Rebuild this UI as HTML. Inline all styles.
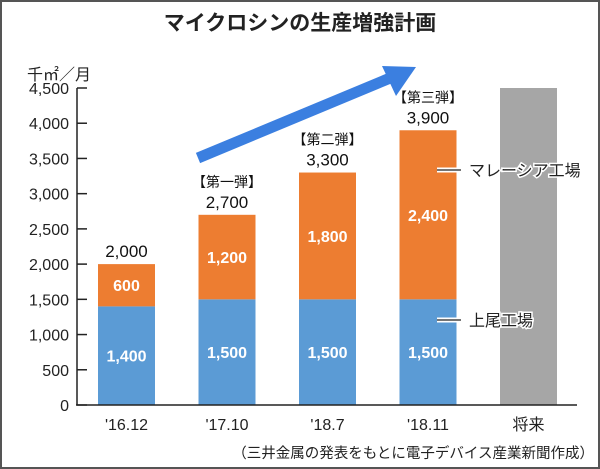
<!DOCTYPE html>
<html><head><meta charset="utf-8"><style>
body{margin:0;background:#fff}
svg{display:block;font-family:"Liberation Sans","Noto Sans CJK JP",sans-serif}
</style></head><body>
<svg id="c" width="600" height="469">
<rect x="1" y="1" width="598" height="467" fill="#fff" stroke="#555" stroke-width="2"/>
<text x="300" y="30" text-anchor="middle" font-size="21" font-weight="bold" fill="#222">マイクロシンの生産増強計画</text>
<text x="27" y="80" font-size="16" fill="#222">千㎡／月</text>
<g id="arrow">
<line x1="198" y1="158" x2="395" y2="76" stroke="#3b7fe0" stroke-width="11"/>
<polygon points="416,67 382,66 396,96" fill="#3b7fe0"/>
</g>
<g id="plot"></g>
<text x="594" y="458" text-anchor="end" font-size="14.5" fill="#222">（三井金属の発表をもとに電子デバイス産業新聞作成）</text>
</svg>
<script>
const categories=["'16.12","'17.10","'18.7","'18.11","将来"];
const ageoValues=[1400,1500,1500,1500,null];
const malaysiaValues=[600,1200,1800,2400,null];
const totalLabels=["2,000","2,700","3,300","3,900",""];
const phaseLabels=["","【第一弾】","【第二弾】","【第三弾】",""];
const futureValue=4500;
const yTicks=[0,500,1000,1500,2000,2500,3000,3500,4000,4500];
const yTickLabels=["0","500","1,000","1,500","2,000","2,500","3,000","3,500","4,000","4,500"];

const ns="http://www.w3.org/2000/svg";
const g=document.getElementById('plot');
const y0=405,pxPer=317/4500;
const y=v=>y0-v*pxPer;
const xc=i=>126.5+i*100.5;
const bw=57;
function el(t,a,txt){const e=document.createElementNS(ns,t);for(const k in a)e.setAttribute(k,a[k]);if(txt!=null)e.textContent=txt;g.appendChild(e);return e;}

categories.forEach((c,i)=>{
  const x=xc(i)-bw/2;
  if(ageoValues[i]==null){
    const r=el('rect',{x:x,y:y(futureValue),width:bw,height:y0-y(futureValue),fill:'#a6a6a6'});
    
    
  }else{
    const a=ageoValues[i],m=malaysiaValues[i];
    const r1=el('rect',{x:x,y:y(a),width:bw,height:y0-y(a),fill:'#5b9bd5'});
    
    
    const r2=el('rect',{x:x,y:y(a+m),width:bw,height:y(a)-y(a+m),fill:'#ed7d31'});
    
    
    const t1=el('text',{x:xc(i),y:(y(a)+y0)/2+6,'text-anchor':'middle','font-size':16,'font-weight':'bold',fill:'#fff'},a.toLocaleString('en-US'));
    
    
    const t2=el('text',{x:xc(i),y:(y(a)+y(a+m))/2+6,'text-anchor':'middle','font-size':16,'font-weight':'bold',fill:'#fff'},m.toLocaleString('en-US'));
    
    
    const t3=el('text',{x:xc(i),y:y(a+m)-7,'text-anchor':'middle','font-size':17,fill:'#111'},totalLabels[i]);
    
    
    if(phaseLabels[i]){
      const t4=el('text',{x:xc(i),y:y(a+m)-28,'text-anchor':'middle','font-size':14,fill:'#111'},phaseLabels[i]);
      
      
    }
  }
  const xl=el('text',{x:xc(i),y:430,'text-anchor':'middle','font-size':16,fill:'#222'},c);
  
  
});
yTicks.forEach((v,i)=>{
  const tl=el('line',{x1:77,x2:87,y1:y(v),y2:y(v),stroke:'#222','stroke-width':1.5});
  
  
  const lb=el('text',{x:69,y:y(v)+6,'text-anchor':'end','font-size':16,fill:'#222'},yTickLabels[i]);
  
  
});
const ya=el('line',{x1:77,x2:77,y1:y(4500),y2:y0,stroke:'#222','stroke-width':1.5});


const xa=el('line',{x1:76,x2:577,y1:y0,y2:y0,stroke:'#222','stroke-width':1.5});


const l1=el('line',{x1:437,x2:461,y1:170,y2:170,stroke:'#fff','stroke-width':5});


const l1b=el('line',{x1:437,x2:461,y1:170,y2:170,stroke:'#222','stroke-width':1.2});


const lt1=el('text',{x:469,y:176,'font-size':16,fill:'#222',stroke:'#fff','stroke-width':3,'paint-order':'stroke'},'マレーシア工場');


const l2=el('line',{x1:437,x2:461,y1:320,y2:320,stroke:'#fff','stroke-width':5});


const l2b=el('line',{x1:437,x2:461,y1:320,y2:320,stroke:'#222','stroke-width':1.2});


const lt2=el('text',{x:469,y:326,'font-size':16,fill:'#222',stroke:'#fff','stroke-width':3,'paint-order':'stroke'},'上尾工場');


</script>
</body></html>
